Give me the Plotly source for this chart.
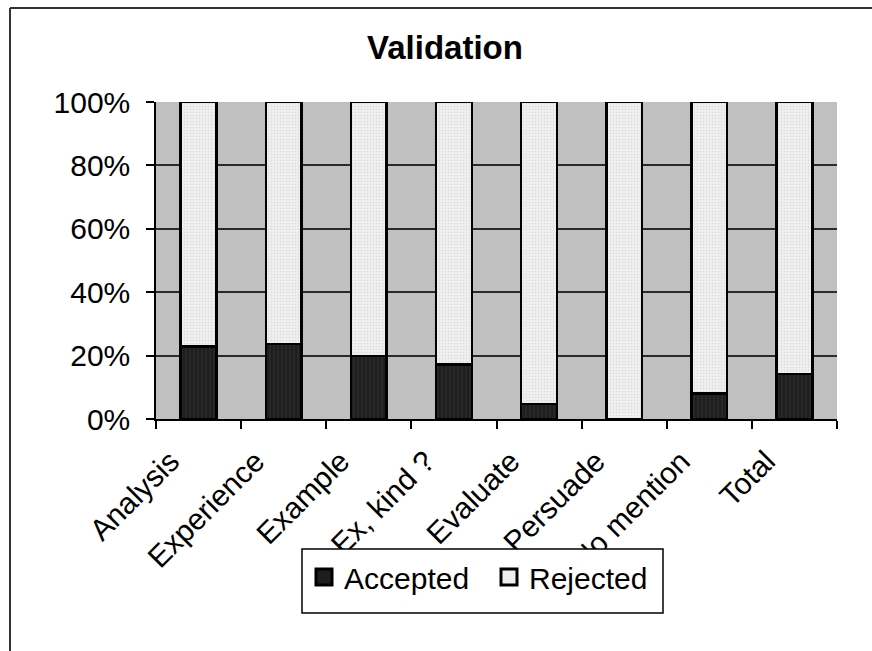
import plotly.graph_objects as go

# --- data -------------------------------------------------------------
categories = ["Analysis", "Experience", "Example", "Ex, kind ?", "Evaluate",
              "Persuade", "No mention", "Total"]
accepted_pct = [22.9, 23.6, 19.8, 17.2, 4.8, 0.0, 8.0, 14.2]
rejected_pct = [round(100 - a, 1) for a in accepted_pct]
y_ticks = [0, 20, 40, 60, 80, 100]
y_tick_labels = ["0%", "20%", "40%", "60%", "80%", "100%"]

series = [
    ("Accepted", accepted_pct, "#1e1e1e",
     dict(shape="|", fgcolor="#3c3c3c", bgcolor="#1e1e1e", size=4, solidity=0.3)),
    ("Rejected", rejected_pct, "#eeeeee",
     dict(shape=".", fgcolor="#c9c9c9", bgcolor="#f1f1f1", size=3, solidity=0.35)),
]

# --- canvas / plot-area geometry (pixels) ------------------------------
W, H = 872, 651
PL, PR, PT, PB = 156, 837, 102, 419   # plot area edges


def px_x(x):
    return (x - PL) / (PR - PL)


def px_y(y):
    return (PB - y) / (PB - PT)


FONT = "Liberation Sans, Arial, sans-serif"

fig = go.Figure()
for name, vals, color, pattern in series:
    fig.add_trace(go.Bar(
        name=name, x=categories, y=vals, legendgroup=name, showlegend=False,
        marker=dict(color=color, line=dict(color="black", width=2.5),
                    pattern=pattern),
    ))
# legend keys: large square swatches in the same colours as the bars
for name, vals, color, pattern in series:
    fig.add_trace(go.Scatter(
        name=name, x=[None], y=[None], mode="markers", legendgroup=name,
        marker=dict(symbol="square", size=16, color=color,
                    line=dict(color="black", width=3)),
    ))

fig.update_layout(
    width=W, height=H,
    barmode="stack", bargap=0.58,
    paper_bgcolor="white", plot_bgcolor="#c0c0c0",
    margin=dict(l=PL, r=W - PR, t=PT, b=H - PB, pad=0),
    font=dict(family=FONT, size=30, color="black"),
    title=dict(text="Validation", font=dict(family=FONT, size=33, weight="bold",
                                           color="black"),
               xref="container", x=445 / W, xanchor="center",
               yref="container", y=1 - 47 / H, yanchor="middle"),
    showlegend=True,
    legend=dict(orientation="h", x=px_x(304), xanchor="left",
                y=px_y(577), yanchor="middle",
                bgcolor="rgba(0,0,0,0)", borderwidth=0,
                entrywidth=140, itemsizing="trace",
                font=dict(family=FONT, size=30, color="black"),
                traceorder="normal"),
    xaxis=dict(type="category", tickangle=-45, showgrid=False,
               showline=True, linecolor="black", linewidth=1.5,
               ticks="outside", ticklen=8, tickcolor="black", tickwidth=1.5,
               tickson="boundaries", tickfont=dict(size=30),
               ticklabelshift=-28, ticklabelstandoff=11),
    yaxis=dict(range=[0, 100], tickvals=y_ticks, ticktext=y_tick_labels,
               showgrid=True, gridcolor="#2a2a2a", gridwidth=1.5,
               zeroline=False, showline=True, linecolor="black", linewidth=1.5,
               ticks="outside", ticklen=8, tickcolor="black", tickwidth=1.5,
               ticklabelstandoff=10),
    shapes=[
        # outer chart-area frame (left and top edges)
        dict(type="line", xref="paper", yref="paper",
             x0=px_x(10), x1=px_x(10), y0=px_y(8), y1=px_y(700),
             line=dict(color="#333333", width=2)),
        dict(type="line", xref="paper", yref="paper",
             x0=px_x(10), x1=px_x(900), y0=px_y(8), y1=px_y(8),
             line=dict(color="#333333", width=2)),
        # legend box
        dict(type="rect", xref="paper", yref="paper", layer="above",
             x0=px_x(302), x1=px_x(663), y0=px_y(549), y1=px_y(613),
             fillcolor="white", line=dict(color="black", width=1.5)),
    ],
)

fig.write_html("out.html")
